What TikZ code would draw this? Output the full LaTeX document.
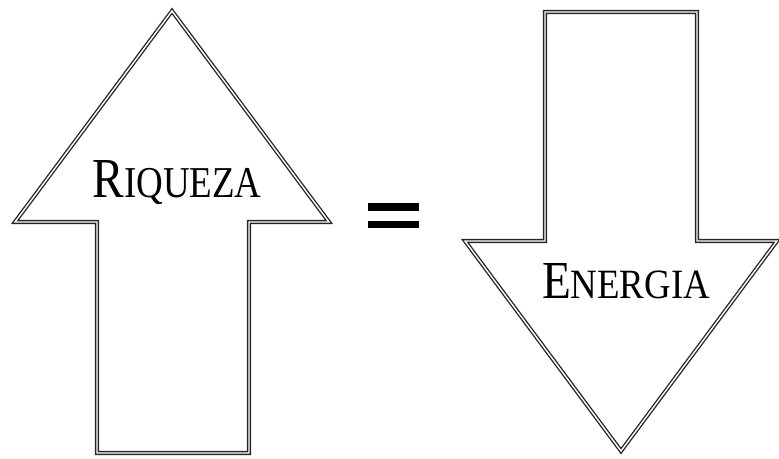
\documentclass[tikz,border=0pt]{standalone}
\usepackage{graphicx}
\usepackage{fontspec}
\setmainfont{Liberation Serif}
\newcommand{\bigsc}[2]{{\fontsize{50}{60}\selectfont #1\fontsize{39}{48}\selectfont #2}}
\tikzset{
  dblarrow/.style={draw=black!85, line width=1.35pt, double=white, double distance=1.4pt, line join=miter},
  lbl/.style={inner sep=0pt, anchor=base},
  bar/.style={fill=black, draw=none}
}
\begin{document}
\begin{tikzpicture}[x=1pt,y=-1pt]
\useasboundingbox (0,0) rectangle (779,458);
% up arrow
\draw[dblarrow] (172,11) -- (329,222) -- (249,222) -- (249,453) -- (97,453) -- (97,222) -- (15,222) -- cycle;
% down arrow
\draw[dblarrow] (545,12) -- (697,12) -- (697,241) -- (777,241) -- (621,451) -- (465,241) -- (545,241) -- cycle;
% labels
\node[lbl] (riq) at (177,197) {\resizebox{169pt}{37pt}{\bigsc{R}{IQUEZA}}};
\node[lbl] (ene) at (626,298) {\resizebox{168pt}{35pt}{\bigsc{E}{NERGIA}}};
% equals sign
\fill[bar] (368,203) rectangle (419,211);
\fill[bar] (368,221) rectangle (419,228);
\end{tikzpicture}
\end{document}
